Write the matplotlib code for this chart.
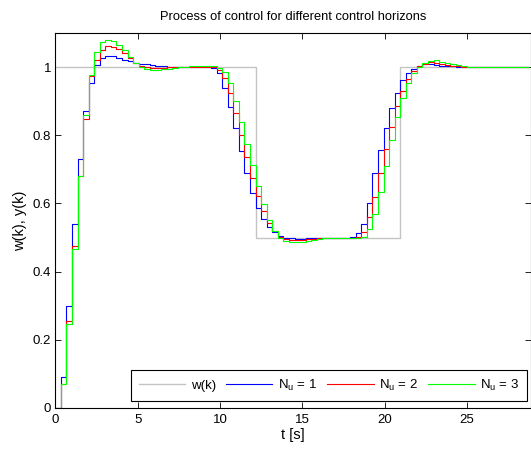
import matplotlib
matplotlib.use('Agg')
import matplotlib.pyplot as plt
import numpy as np

plt.rcParams['font.family'] = ['Liberation Sans', 'DejaVu Sans']
plt.rcParams['mathtext.fontset'] = 'custom'
plt.rcParams['mathtext.rm'] = 'Liberation Sans'
plt.rcParams['mathtext.it'] = 'Liberation Sans'

TS = 0.338  # sampling period [s]

# setpoint w(k)
w = [1.0] * 36 + [0.5] * 26 + [1.0] * 24

# Nu = 1 (blue)
y_nu1 = [0.0, 0.09, 0.30, 0.54, 0.73, 0.87, 0.954, 1.005, 1.026, 1.033,
         1.033, 1.028, 1.022, 1.017, 1.013, 1.010, 1.008, 1.006, 1.004, 1.002,
         1.001, 1.0, 1.0, 1.0, 1.0, 1.0, 1.0, 0.999, 0.996, 0.984,
         0.94, 0.884, 0.82, 0.755, 0.69, 0.63, 0.586, 0.553, 0.532, 0.515,
         0.505, 0.500, 0.498, 0.497, 0.497, 0.498, 0.499, 0.5, 0.5, 0.5,
         0.5, 0.5, 0.5, 0.503, 0.512, 0.54, 0.60, 0.69, 0.757, 0.82,
         0.88, 0.925, 0.962, 0.982, 0.994, 1.004, 1.008, 1.008, 1.006, 1.004,
         1.003, 1.002, 1.001, 1.0, 1.0, 1.0, 1.0, 1.0, 1.0, 1.0,
         1.0, 1.0, 1.0, 1.0, 1.0, 1.0]

# Nu = 2 (red)
y_nu2 = [0.0, 0.07, 0.255, 0.475, 0.68, 0.848, 0.975, 1.022, 1.05, 1.062,
         1.06, 1.052, 1.04, 1.026, 1.013, 1.004, 0.999, 0.997, 0.997, 0.998,
         0.999, 1.0, 1.0, 1.0, 1.0, 1.0, 1.0, 1.0, 0.999, 0.992,
         0.968, 0.925, 0.865, 0.80, 0.735, 0.675, 0.622, 0.578, 0.543, 0.518,
         0.503, 0.495, 0.492, 0.492, 0.493, 0.495, 0.497, 0.498, 0.499, 0.5,
         0.5, 0.5, 0.5, 0.5, 0.503, 0.515, 0.56, 0.62, 0.69, 0.76,
         0.825, 0.885, 0.93, 0.965, 0.988, 1.002, 1.01, 1.014, 1.013, 1.01,
         1.007, 1.004, 1.002, 1.001, 1.0, 1.0, 1.0, 1.0, 1.0, 1.0,
         1.0, 1.0, 1.0, 1.0, 1.0, 1.0]

# Nu = 3 (green)
y_nu3 = [0.0, 0.07, 0.245, 0.465, 0.68, 0.86, 0.977, 1.045, 1.075, 1.079,
         1.076, 1.066, 1.05, 1.031, 1.013, 1.0, 0.993, 0.991, 0.991, 0.993,
         0.995, 0.997, 0.999, 1.0, 1.002, 1.003, 1.003, 1.003, 1.002, 0.997,
         0.985, 0.952, 0.90, 0.84, 0.775, 0.712, 0.652, 0.598, 0.552, 0.52,
         0.499, 0.489, 0.486, 0.486, 0.488, 0.49, 0.493, 0.496, 0.498, 0.499,
         0.5, 0.5, 0.5, 0.5, 0.5, 0.503, 0.525, 0.57, 0.635, 0.71,
         0.785, 0.855, 0.91, 0.952, 0.982, 1.0, 1.012, 1.019, 1.02, 1.016,
         1.012, 1.008, 1.005, 1.003, 1.001, 1.0, 1.0, 1.0, 1.0, 1.0,
         1.0, 1.0, 1.0, 1.0, 1.0, 1.0]

series_labels = ['w(k)', r'N$_\mathregular{u}$ = 1', r'N$_\mathregular{u}$ = 2', r'N$_\mathregular{u}$ = 3']
x_ticks = [0, 5, 10, 15, 20, 25]
y_ticks = [0, 0.2, 0.4, 0.6, 0.8, 1.0]
y_ticklabels = ['0', '0.2', '0.4', '0.6', '0.8', '1']

W, H = 531, 450
fig = plt.figure(figsize=(W / 100, H / 100), dpi=100)
ax = fig.add_axes([55.3 / W, 42 / H, (531 - 55.3) / W, 375 / H])

def tvec(v):
    return np.arange(len(v)) * TS

ax.step(tvec(w), w, where='post', color='#c4c4c4', lw=1.0, label=series_labels[0])
ax.step(tvec(y_nu1), y_nu1, where='post', color='#0000ff', lw=0.8, label=series_labels[1])
ax.step(tvec(y_nu2), y_nu2, where='post', color='#ff0000', lw=0.8, label=series_labels[2])
ax.step(tvec(y_nu3), y_nu3, where='post', color='#00ff00', lw=0.8, label=series_labels[3])

ax.set_xlim(0, 28.9)
ax.set_ylim(0, 1.1)
ax.set_xticks(x_ticks)
ax.set_xticklabels([str(v) for v in x_ticks])
ax.set_yticks(y_ticks)
ax.set_yticklabels(y_ticklabels)
ax.tick_params(direction='in', top=True, right=True, length=4, width=0.6,
               labelsize=9.5, colors='black')
ax.tick_params(axis='x', pad=4)
ax.tick_params(axis='y', pad=3)
for s in ax.spines.values():
    s.set_linewidth(0.8)
    s.set_color('black')

ax.set_title('Process of control for different control horizons', fontsize=9.3, pad=9)
ax.set_xlabel('t [s]', fontsize=10.5, labelpad=2)
ax.set_ylabel('w(k), y(k)', fontsize=10.5, labelpad=4)

leg = ax.legend(ncol=4, loc='lower right',
                bbox_to_anchor=((527 - 55.3) / (531 - 55.3), 7.3 / 375),
                fontsize=9.5, handlelength=3.5, handletextpad=0.4,
                columnspacing=0.8, borderpad=0.6, fancybox=False,
                framealpha=1, edgecolor='black', borderaxespad=0)
leg.get_frame().set_linewidth(0.8)

fig.savefig('out.png', dpi=100)
